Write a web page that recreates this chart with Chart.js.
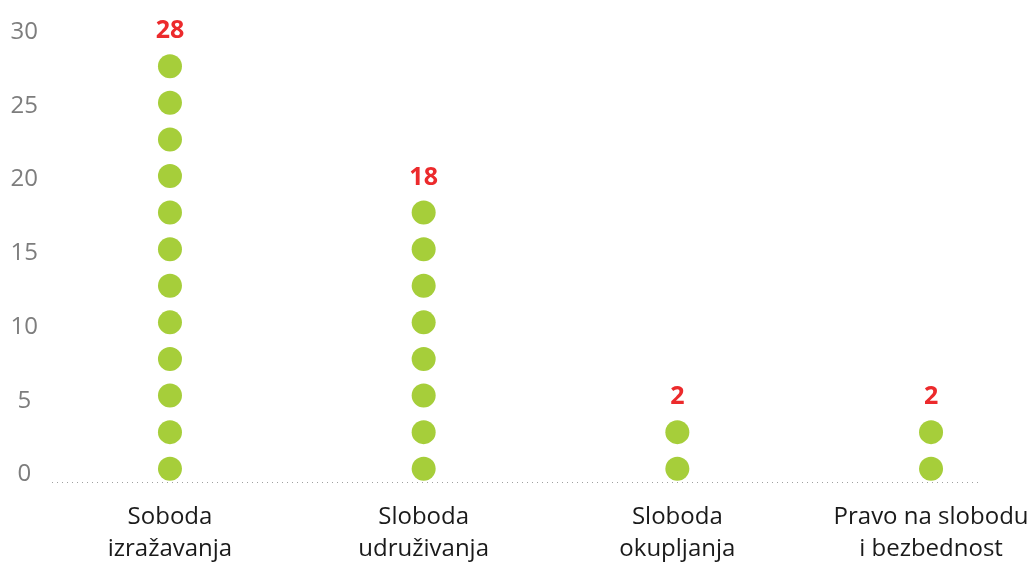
<!DOCTYPE html>
<html>
<head>
<meta charset="utf-8">
<script src="https://cdn.jsdelivr.net/npm/chart.js@4"></script>
<style>
  html, body { margin: 0; padding: 0; background: #fff; }
  #wrap { width: 1035px; height: 562px; position: relative; }
</style>
</head>
<body>
<div id="wrap"><canvas id="dotChart"></canvas></div>
<script>
const categories = [['Soboda', 'izražavanja'], ['Sloboda', 'udruživanja'], ['Sloboda', 'okupljanja'], ['Pravo na slobodu', 'i bezbednost']];
const values = [28, 18, 2, 2];
const dotCounts = [12, 8, 2, 2];
const yTicks = [0, 5, 10, 15, 20, 25, 30];

// each dot sits one step above the previous one
const dotBase = 0.4;
const dotStep = 2.48;

const dots = [];
dotCounts.forEach((n, i) => {
    for (let k = 0; k < n; k++) dots.push({ x: i, y: dotBase + k * dotStep });
});

// dotted base line + red totals above each column
const decorations = {
    id: 'decorations',
    beforeDatasetsDraw(chart) {
        const { ctx, chartArea: a } = chart;
        ctx.save();
        ctx.strokeStyle = '#a0a0a0';
        ctx.lineWidth = 1;
        ctx.setLineDash([1, 4]);
        ctx.beginPath();
        ctx.moveTo(a.left, a.bottom + 0.5);
        ctx.lineTo(a.right, a.bottom + 0.5);
        ctx.stroke();
        ctx.restore();
    },
    afterDatasetsDraw(chart) {
        const { ctx, scales: { x, y } } = chart;
        ctx.save();
        ctx.fillStyle = '#ec2a2c';
        ctx.font = 'bold 25px "Open Sans"';
        ctx.textAlign = 'center';
        ctx.textBaseline = 'middle';
        values.forEach((v, i) => {
            const top = dotBase + (dotCounts[i] - 1) * dotStep;
            ctx.fillText(String(v), x.getPixelForValue(i), y.getPixelForValue(top) - 35);
        });
        ctx.restore();
    }
};

const ctx = document.getElementById('dotChart').getContext('2d');

let dotChart = new Chart(ctx, {
    type: 'scatter',
    data: {
        datasets: [{
            data: dots,
            backgroundColor: '#a6ce3a',
            borderWidth: 0,
            pointRadius: 12,
            pointHoverRadius: 12
        }]
    },
    options: {
        responsive: true,
        maintainAspectRatio: false,
        animation: false,
        layout: { padding: { top: 32, right: 55, left: 0, bottom: 0 } },
        plugins: {
            legend: { display: false },
            tooltip: { enabled: false }
        },
        scales: {
            x: {
                type: 'linear',
                min: -0.465,
                max: 3.193,
                grid: { display: false, drawTicks: false },
                border: { display: false },
                afterBuildTicks: s => { s.ticks = categories.map((c, i) => ({ value: i })); },
                afterFit: s => { s.height = 80; s.paddingLeft = 0; s.paddingRight = 0; },
                ticks: {
                    autoSkip: false,
                    maxRotation: 0,
                    padding: 19,
                    color: '#1a1a1a',
                    font: { family: '"Open Sans"', size: 24, lineHeight: 1.35 },
                    callback: v => categories[v]
                }
            },
            y: {
                min: -0.5,
                max: 30,
                grid: { display: false, drawTicks: false },
                border: { display: false },
                afterBuildTicks: s => { s.ticks = yTicks.map(v => ({ value: v })); },
                afterFit: s => { s.width = 52; s.paddingTop = 0; s.paddingBottom = 0; },
                ticks: {
                    crossAlign: 'center',
                    padding: 14,
                    color: '#7d7d7d',
                    font: { family: '"Open Sans"', size: 24 }
                }
            }
        }
    },
    plugins: [decorations]
});
</script>
</body>
</html>
